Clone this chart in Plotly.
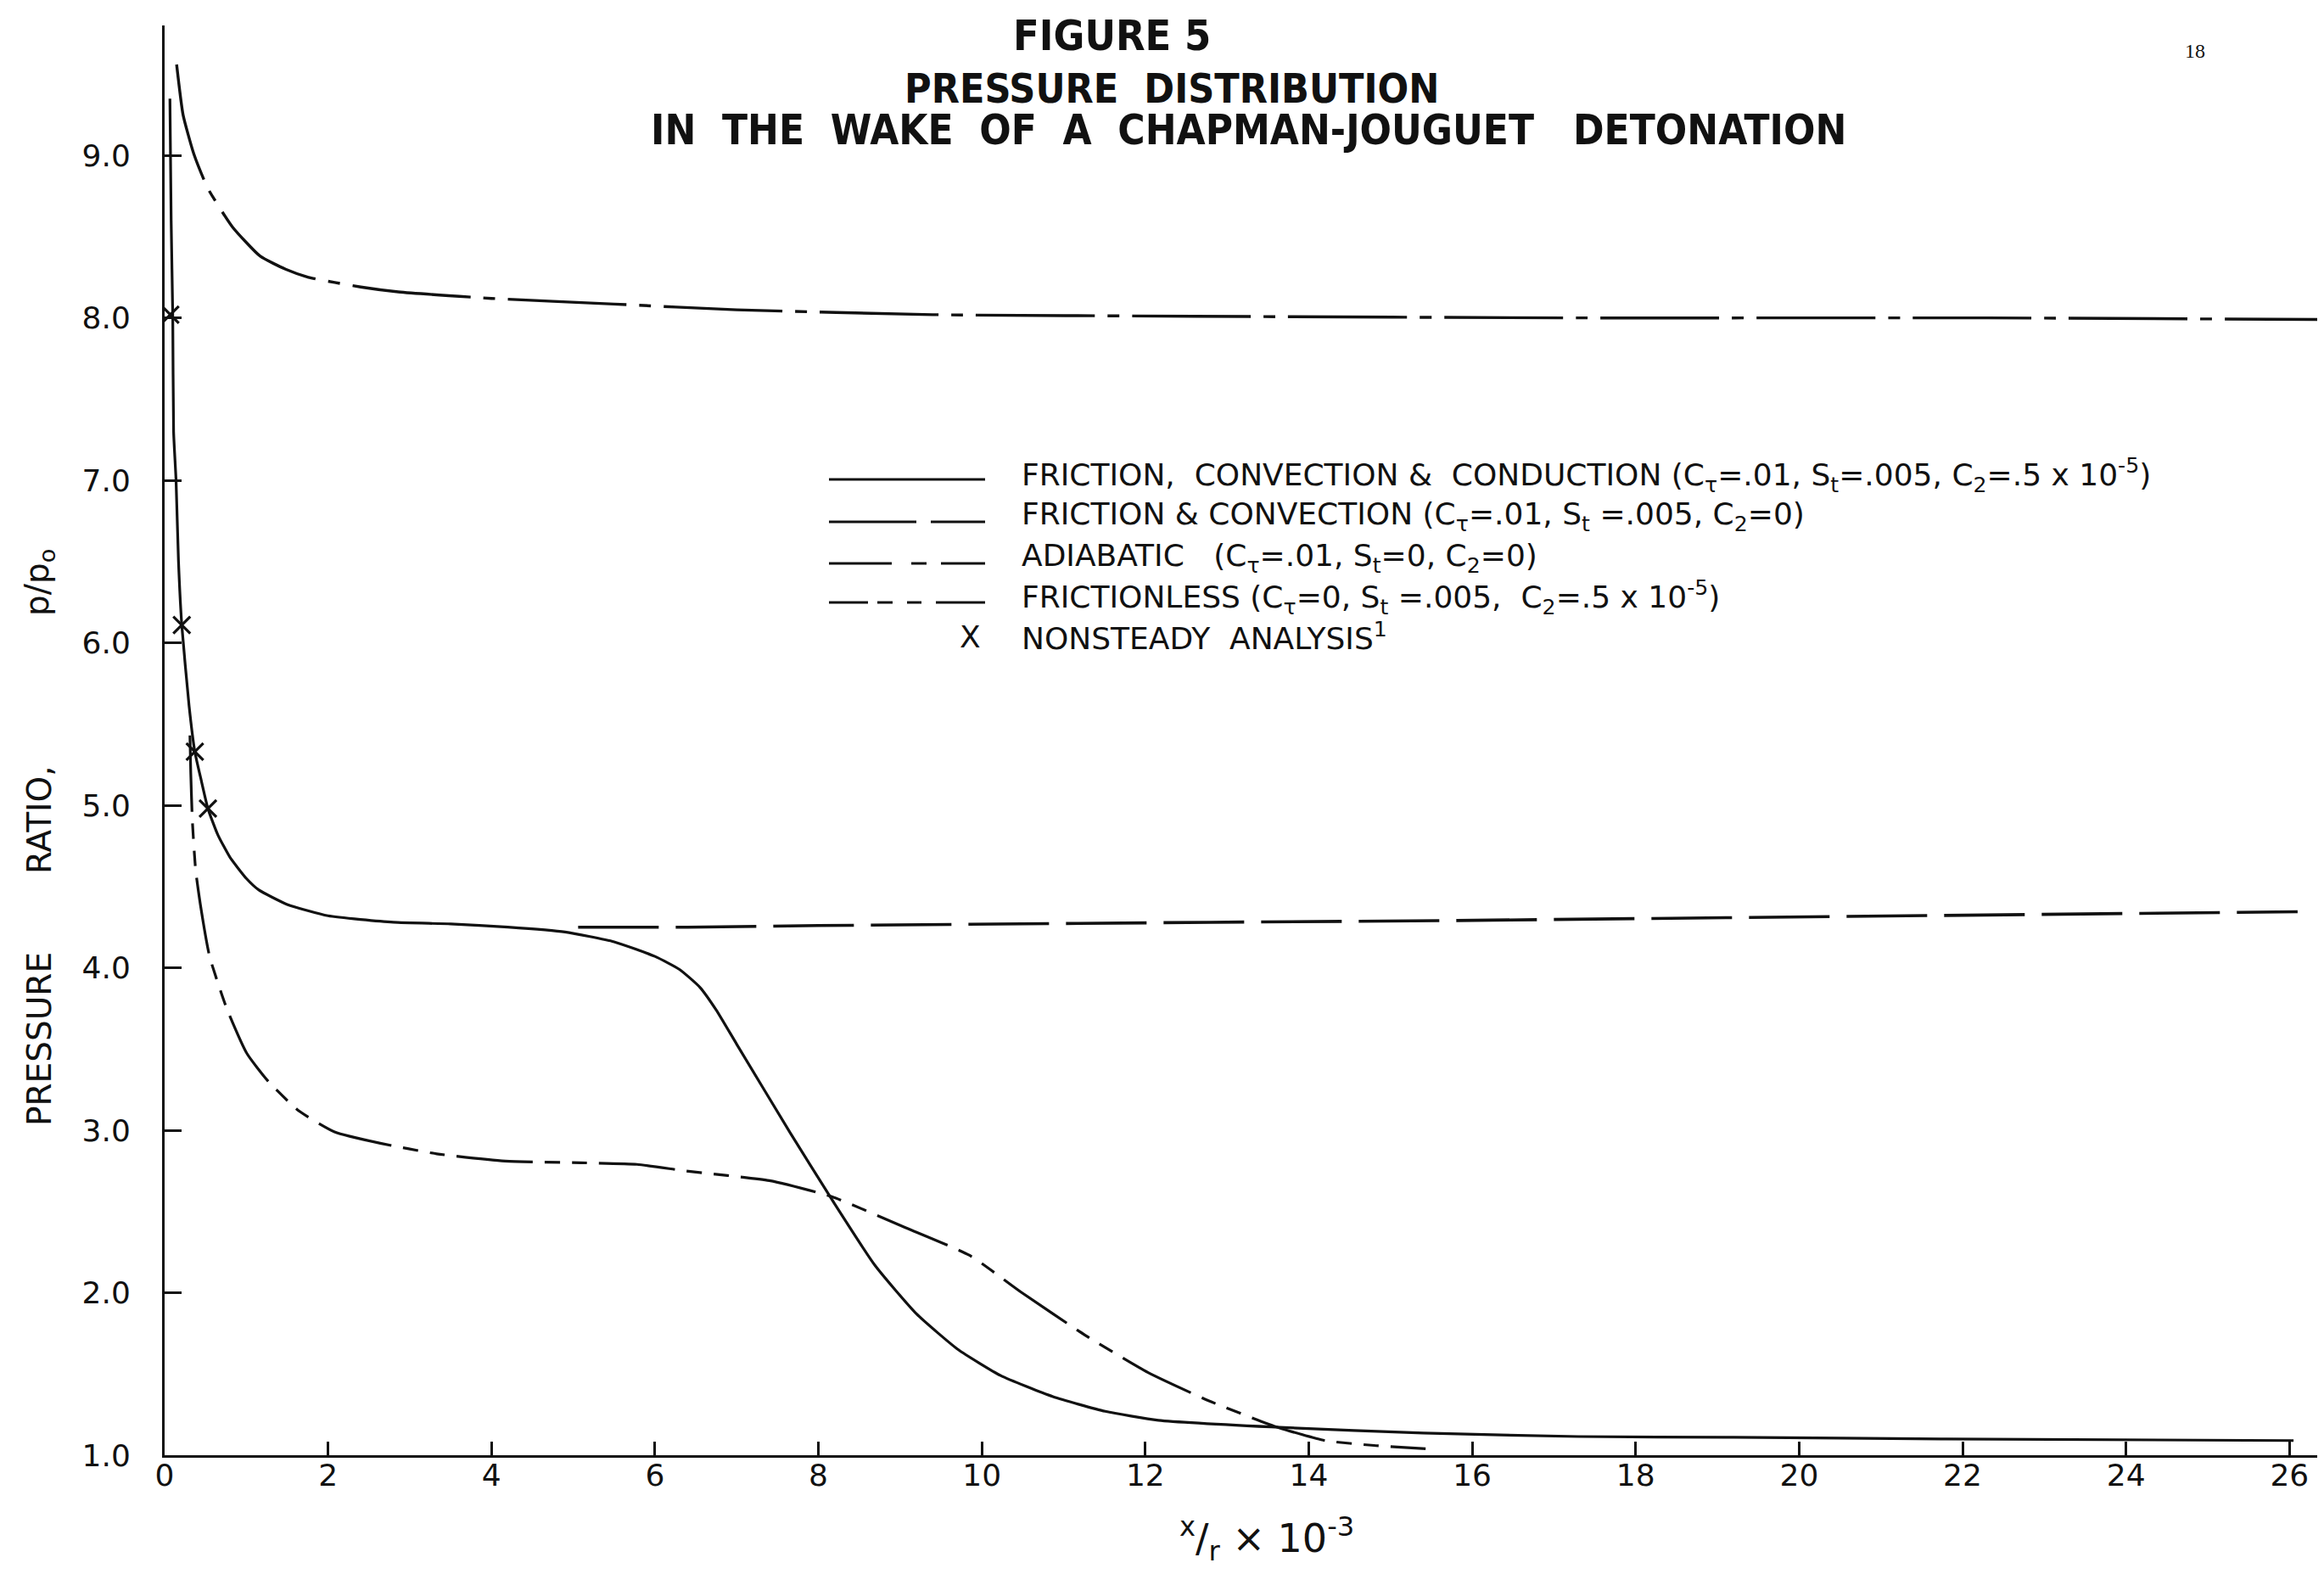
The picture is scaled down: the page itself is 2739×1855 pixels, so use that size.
import plotly.graph_objects as go

# ---------------- data ----------------
solid_x = [0.065, 0.08, 0.10, 0.11, 0.14, 0.17, 0.21, 0.30, 0.37, 0.45, 0.53, 0.65, 0.80, 1.0, 1.15,
           1.5, 2.0, 2.8, 3.5, 4.2, 4.9, 5.5, 6.0, 6.3, 6.55, 6.75, 7.0, 7.66, 8.17, 8.69, 9.2, 9.71,
           10.23, 10.87, 11.51, 12.16, 13.7, 15.4, 17.3, 19.2, 21.8, 26.05]
solid_y = [9.35, 8.6, 8.0, 7.3, 7.0, 6.5, 6.11, 5.61, 5.33, 5.15, 4.98, 4.82, 4.68, 4.55, 4.48,
           4.39, 4.32, 4.28, 4.27, 4.25, 4.22, 4.16, 4.07, 3.99, 3.88, 3.74, 3.53, 2.98, 2.57, 2.17, 1.87, 1.65,
           1.49, 1.36, 1.27, 1.215, 1.17, 1.136, 1.115, 1.11, 1.10, 1.09]

fc_x = [5.06, 6.4, 8.0, 10.0, 12.8, 15.6, 19.2, 22.0, 26.1]
fc_y = [4.25, 4.25, 4.26, 4.27, 4.28, 4.29, 4.31, 4.325, 4.345]

adia_x = [0.147, 0.226, 0.357, 0.526, 0.83, 1.17, 1.48, 1.76, 2.4, 2.86, 4.0,
          5.5, 7.0, 9.4, 12.6, 17.4, 22.3, 26.35]
adia_y = [9.56, 9.25, 9.01, 8.80, 8.56, 8.38, 8.30, 8.25, 8.19, 8.16, 8.12,
          8.085, 8.05, 8.02, 8.01, 8.0, 8.0, 7.99]

fless_x = [0.31, 0.32, 0.34, 0.38, 0.45, 0.55, 0.76, 1.01, 1.27, 1.64, 2.08, 2.64, 3.33, 4.17, 5.09,
           5.78, 6.37, 7.4, 8.17, 9.07, 9.85, 10.49, 11.26, 12.03, 12.8, 13.63, 14.2, 14.8, 15.43]
fless_y = [5.43, 5.2, 4.9, 4.6, 4.35, 4.07, 3.75, 3.47, 3.30, 3.12, 2.99, 2.92, 2.855, 2.81, 2.80,
           2.79, 2.75, 2.69, 2.59, 2.40, 2.23, 2.0, 1.74, 1.51, 1.33, 1.17, 1.09, 1.06, 1.04]

ns_x = [0.07, 0.21, 0.37, 0.53]
ns_y = [8.02, 6.11, 5.33, 4.98]

x_ticks = list(range(0, 27, 2))
x_ticklabels = [str(v) for v in x_ticks]
y_ticks = [1, 2, 3, 4, 5, 6, 7, 8, 9]
y_ticklabels = ["%.1f" % v for v in y_ticks]

legend_labels = [
    "FRICTION,  CONVECTION &  CONDUCTION (C<sub>τ</sub>=.01, S<sub>t</sub>=.005, C<sub>2</sub>=.5 x 10<sup>-5</sup>)",
    "FRICTION & CONVECTION (C<sub>τ</sub>=.01, S<sub>t</sub> =.005, C<sub>2</sub>=0)",
    "ADIABATIC   (C<sub>τ</sub>=.01, S<sub>t</sub>=0, C<sub>2</sub>=0)",
    "FRICTIONLESS (C<sub>τ</sub>=0, S<sub>t</sub> =.005,  C<sub>2</sub>=.5 x 10<sup>-5</sup>)",
    "NONSTEADY  ANALYSIS<sup>1</sup>",
]

# ---------------- layout geometry (pixels of the page) ----------------
W_PX, H_PX = 2739, 1855
L, R, T, B = 186, 2724, 22, 1707


def px(x):
    return (x - L) / (R - L)


def py(y):
    return (B - y) / (B - T)


BLACK = "#111111"
COND = "DejaVu Sans Condensed, DejaVu Sans, sans-serif"
SANS = "DejaVu Sans, sans-serif"

DASH_FC = "95px,20px"
DASH_AD = "140px,15px,14px,15px"
DASH_FL = "90px,14px,18px,14px,18px,14px"

fig = go.Figure()
fig.add_trace(go.Scatter(x=solid_x, y=solid_y, mode="lines", line=dict(color=BLACK, width=3.2, shape="spline", smoothing=0.5),
                         name="Friction, convection & conduction", showlegend=False))
fig.add_trace(go.Scatter(x=fc_x, y=fc_y, mode="lines", line=dict(color=BLACK, width=3.6, dash=DASH_FC),
                         name="Friction & convection", showlegend=False))
fig.add_trace(go.Scatter(x=adia_x, y=adia_y, mode="lines", line=dict(color=BLACK, width=3.4, dash=DASH_AD, shape="spline", smoothing=0.5),
                         name="Adiabatic", showlegend=False))
fig.add_trace(go.Scatter(x=fless_x, y=fless_y, mode="lines", line=dict(color=BLACK, width=3.2, dash=DASH_FL, shape="spline", smoothing=0.5),
                         name="Frictionless", showlegend=False))
fig.add_trace(go.Scatter(x=ns_x, y=ns_y, mode="markers",
                         marker=dict(symbol="x-thin", size=20, line=dict(color=BLACK, width=3.2)),
                         name="Nonsteady analysis", showlegend=False))

annotations = []
shapes = []

# titles
annotations.append(dict(text="<b>FIGURE 5</b>", x=px(1302), y=py(34), xref="paper", yref="paper",
                        showarrow=False, xanchor="center", yanchor="middle",
                        font=dict(family=COND, size=50, color=BLACK)))
annotations.append(dict(text="<b>PRESSURE\u00a0\u00a0DISTRIBUTION</b>", x=px(1373), y=py(96), xref="paper", yref="paper",
                        showarrow=False, xanchor="center", yanchor="middle",
                        font=dict(family=COND, size=48, color=BLACK)))
annotations.append(dict(text="<b>IN\u00a0\u00a0THE\u00a0\u00a0WAKE\u00a0\u00a0OF\u00a0\u00a0A\u00a0\u00a0CHAPMAN-JOUGUET\u00a0\u00a0\u00a0DETONATION</b>",
                        x=px(1464), y=py(146), xref="paper", yref="paper",
                        showarrow=False, xanchor="center", yanchor="middle",
                        font=dict(family=COND, size=49, color=BLACK)))
annotations.append(dict(text="18", x=px(2579), y=py(52), xref="paper", yref="paper",
                        showarrow=False, xanchor="center", yanchor="middle",
                        font=dict(family="Liberation Serif, serif", size=24, color=BLACK)))

# axis titles
for txt, yc in [("PRESSURE", 1217), ("RATIO,", 958), ("p/p<sub>o</sub>", 679)]:
    annotations.append(dict(text=txt, x=px(38), y=py(yc), xref="paper", yref="paper", textangle=-90,
                            showarrow=False, xanchor="center", yanchor="middle",
                            font=dict(family=SANS, size=39, color=BLACK)))
annotations.append(dict(text="<sup>x</sup>/<sub>r</sub> × 10<sup>-3</sup>", x=px(1485), y=py(1805),
                        xref="paper", yref="paper", showarrow=False, xanchor="center", yanchor="middle",
                        font=dict(family=SANS, size=46, color=BLACK)))

# legend (drawn as key)
rows_y = [557, 607, 656, 702, 748]
text_y = [552, 601, 650, 696, 742]
dashes = ["solid", "103px,17px,64px,60px", "74px,23px,18px,17px,52px,60px",
          "46px,11px,18px,17px,17px,17px,58px,60px"]
for i, d in enumerate(dashes):
    shapes.append(dict(type="line", xref="paper", yref="paper", x0=px(969), x1=px(1153),
                       y0=py(rows_y[i]), y1=py(rows_y[i]), line=dict(color=BLACK, width=3.2, dash=d)))
for i, txt in enumerate(legend_labels):
    annotations.append(dict(text=txt, x=px(1194), y=py(text_y[i]), xref="paper", yref="paper",
                            showarrow=False, xanchor="left", yanchor="middle",
                            font=dict(family=SANS, size=36, color=BLACK)))
annotations.append(dict(text="X", x=px(1135), y=py(text_y[4]), xref="paper", yref="paper",
                        showarrow=False, xanchor="center", yanchor="middle",
                        font=dict(family=SANS, size=36, color=BLACK)))

fig.update_layout(
    width=W_PX, height=H_PX,
    margin=dict(l=L, r=W_PX - R, t=T, b=H_PX - B, pad=0),
    paper_bgcolor="white", plot_bgcolor="white",
    showlegend=False,
    annotations=annotations, shapes=shapes,
    xaxis=dict(range=[0, 26.35], tickmode="array", tickvals=x_ticks, ticktext=x_ticklabels,
               ticks="inside", ticklen=16, tickwidth=2.5, tickcolor=BLACK,
               showline=True, linecolor=BLACK, linewidth=3, showgrid=False, zeroline=False,
               ticklabelstandoff=-10, tickfont=dict(family=SANS, size=36, color=BLACK)),
    yaxis=dict(range=[1.0, 9.8], tickmode="array", tickvals=y_ticks, ticktext=y_ticklabels,
               ticks="inside", ticklen=20, tickwidth=2.5, tickcolor=BLACK,
               showline=True, linecolor=BLACK, linewidth=3, showgrid=False, zeroline=False,
               ticklabelstandoff=30, tickfont=dict(family=SANS, size=36, color=BLACK)),
)

fig.write_html("out.html")
